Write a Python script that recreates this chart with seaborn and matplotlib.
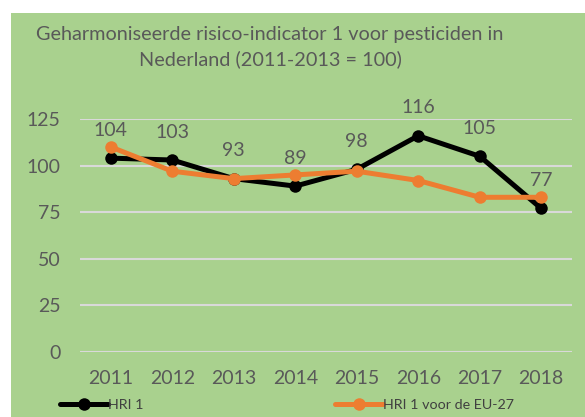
import matplotlib
matplotlib.use("Agg")
import matplotlib.pyplot as plt
import seaborn as sns
import pandas as pd
from matplotlib.patches import Rectangle

years = ["2011", "2012", "2013", "2014", "2015", "2016", "2017", "2018"]
hri_nl = [104, 103, 93, 89, 98, 116, 105, 77]
hri_eu = [110, 97, 93, 95, 97, 92, 83, 83]
series_names = ["HRI 1", "HRI 1 voor de EU-27"]
title = "Geharmoniseerde risico-indicator 1 voor pesticiden in\nNederland (2011-2013 = 100)"

sns.set_theme(style="white")
plt.rcParams["font.family"] = ["Lato", "DejaVu Sans"]

W, H = 585, 417
fig = plt.figure(figsize=(W / 100, H / 100), dpi=100, facecolor="white")
green = "#A9D18E"
fig.patches.append(Rectangle((11 / W, 0), 1 - 11 / W, 1 - 13 / H, transform=fig.transFigure,
                             facecolor=green, edgecolor="none", zorder=-10))

ax = fig.add_axes([80 / W, 1 - 352 / H, (572 - 80) / W, (352 - 119) / H])
ax.set_facecolor("none")
ax.patch.set_alpha(0)

df = pd.DataFrame({"year": years * 2,
                   "value": hri_nl + hri_eu,
                   "series": [series_names[0]] * len(years) + [series_names[1]] * len(years)})
df["x"] = list(range(len(years))) * 2

sns.lineplot(data=df[df.series == series_names[0]], x="x", y="value", color="#000000",
             marker="o", markersize=9, markeredgewidth=0, linewidth=3.6, ax=ax, legend=False,
             zorder=3)
sns.lineplot(data=df[df.series == series_names[1]], x="x", y="value", color="#ED7D31",
             marker="o", markersize=9, markeredgewidth=0, linewidth=3.6, ax=ax, legend=False,
             zorder=4)

ax.set_xlim(-0.5, len(years) - 0.5)
ax.set_ylim(0, 125)
ax.set_yticks([0, 25, 50, 75, 100, 125])
ax.set_xticks(range(len(years)))
ax.set_xticklabels(years)
ax.set_xlabel("")
ax.set_ylabel("")
for s in ax.spines.values():
    s.set_visible(False)
ax.grid(axis="y", color="#D9D9D9", linewidth=1.5)
ax.set_axisbelow(True)
ax.tick_params(axis="both", length=0, labelsize=14, labelcolor="#595959")
ax.tick_params(axis="y", pad=14)
ax.tick_params(axis="x", pad=13)

for i, v in enumerate(hri_nl):
    ax.annotate(str(v), (i, v), xytext=(0, 20), textcoords="offset points",
                ha="center", va="center", fontsize=14, color="#595959", annotation_clip=False)

fig.text(270 / W, 1 - 47 / H, title, ha="center", va="center", fontsize=14.3,
         color="#595959", linespacing=1.5)

lines = ax.get_lines()
leg1 = fig.legend([lines[0]], [series_names[0]], loc="center left",
                  bbox_to_anchor=(54 / W, 1 - 405 / H), frameon=False, fontsize=10.3,
                  handlelength=3.4, handletextpad=0.0, labelcolor="#404040", borderaxespad=0)
leg2 = fig.legend([lines[1]], [series_names[1]], loc="center left",
                  bbox_to_anchor=(329 / W, 1 - 405 / H), frameon=False, fontsize=10.3,
                  handlelength=3.4, handletextpad=0.0, labelcolor="#404040", borderaxespad=0)

fig.savefig("out.png", dpi=100, facecolor="white")
